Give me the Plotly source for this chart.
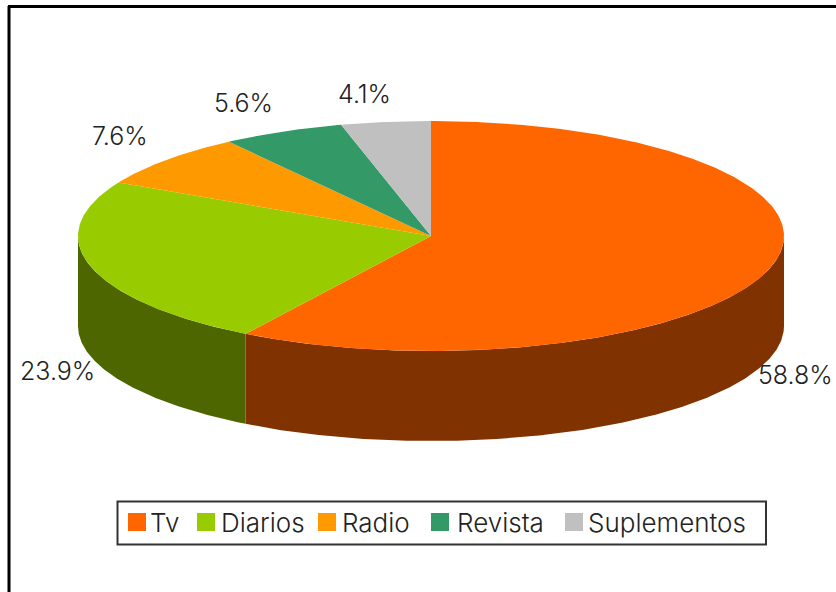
import numpy as np
import plotly.graph_objects as go

categories = ["Tv", "Diarios", "Radio", "Revista", "Suplementos"]
shares = [58.8, 23.9, 7.6, 5.6, 4.1]
top_colors = ["#FF6600", "#99CC00", "#FF9900", "#339966", "#C0C0C0"]
side_colors = ["#803300", "#4D6600", "#804D00", "#1A4D33", "#606060"]

# pie geometry, in page pixels
CX, CY = 431, 236
RX, RY = 353, 115
DEPTH = 90

# where the percent labels sit (centre of text)
label_x = [795, 57, 120, 243, 364]
label_y = [375, 371, 136, 103, 94]

# legend layout
swatch_x = [137, 206, 327, 440, 574]
text_x = [148, 219, 340, 455, 586]
LEGEND_Y = 522
FONT = "Inter"
FONT_WEIGHT = 300


def arc(start, end):
    """points along the top ellipse, angles in degrees clockwise from 12 o'clock"""
    n = max(2, int(abs(end - start)) * 2)
    t = np.radians(np.linspace(start, end, n))
    return CX + RX * np.sin(t), CY - RY * np.cos(t)


fig = go.Figure()

edges = np.concatenate([[0], np.cumsum(shares)]) * 3.6

# outer wall, only the front half of the pie shows it
for i in range(len(shares)):
    a, b = max(edges[i], 90), min(edges[i + 1], 270)
    if a >= b:
        continue
    x, y = arc(a, b)
    fig.add_trace(go.Scatter(
        x=np.concatenate([x, x[::-1]]),
        y=np.concatenate([y, y[::-1] + DEPTH]),
        mode="lines",
        fill="toself",
        fillcolor=side_colors[i],
        line={"width": 0},
        hoverinfo="skip",
    ))

# top face
for i, name in enumerate(categories):
    x, y = arc(edges[i], edges[i + 1])
    fig.add_trace(go.Scatter(
        x=np.concatenate([[CX], x, [CX]]),
        y=np.concatenate([[CY], y, [CY]]),
        mode="lines",
        fill="toself",
        fillcolor=top_colors[i],
        line={"width": 0},
        name=name,
        hoverinfo="name",
    ))

# legend swatches
fig.add_trace(go.Scatter(
    x=swatch_x,
    y=[LEGEND_Y] * len(categories),
    mode="markers",
    marker={"symbol": "square", "size": 18, "color": top_colors, "line": {"width": 0}},
    hoverinfo="skip",
))

annotations = []
for i, v in enumerate(shares):
    annotations.append(dict(
        x=label_x[i], y=label_y[i], text=f"{v}%", showarrow=False,
        font={"family": FONT, "size": 25, "color": "#222222", "weight": FONT_WEIGHT},
    ))
for i, name in enumerate(categories):
    annotations.append(dict(
        x=text_x[i], y=LEGEND_Y, text=name, showarrow=False, xanchor="left",
        font={"family": FONT, "size": 26, "color": "#222222", "weight": FONT_WEIGHT},
    ))

fig.update_layout(
    autosize=False,
    width=836,
    height=592,
    margin=dict(l=0, r=0, b=0, t=0),
    paper_bgcolor="white",
    plot_bgcolor="white",
    showlegend=False,
    annotations=annotations,
    xaxis={"range": [0, 836], "visible": False, "fixedrange": True},
    yaxis={"range": [592, 0], "visible": False, "fixedrange": True},
    shapes=[
        # outer frame, runs off the right and bottom of the page
        dict(type="line", x0=9, x1=9, y0=6, y1=592, line={"color": "black", "width": 3}),
        dict(type="line", x0=8, x1=836, y0=6.5, y1=6.5, line={"color": "black", "width": 3}),
        # legend box
        dict(type="rect", x0=117.5, x1=766, y0=501.5, y1=544.5, line={"color": "#333333", "width": 2}),
    ],
)

fig.write_html(
    "out.html",
    config={"displayModeBar": False},
    post_script="document.body.style.margin='0';",
)
